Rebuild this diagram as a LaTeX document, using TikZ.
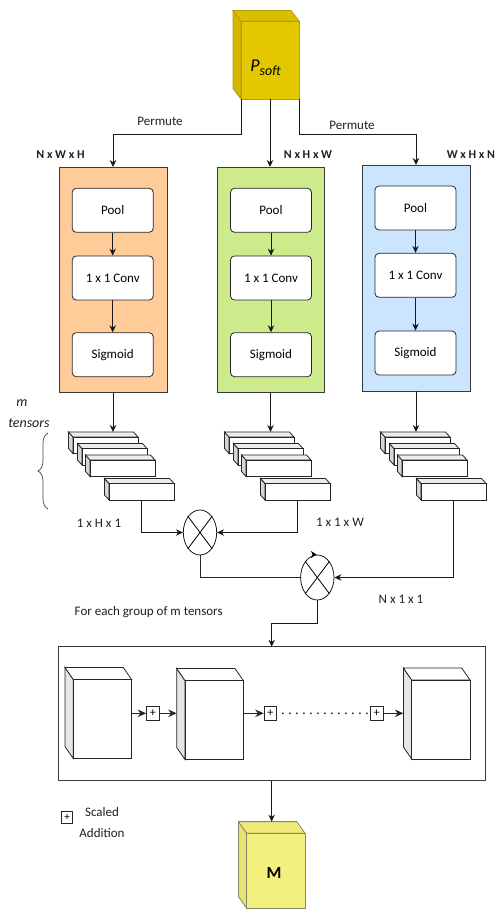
\documentclass[tikz,border=0pt]{standalone}
\usepackage{fontspec}
\setmainfont{Carlito}
\usetikzlibrary{arrows.meta,shapes.geometric,decorations.pathreplacing}

\definecolor{edge}{HTML}{36393D}
\definecolor{orangeF}{HTML}{FFCC99}
\definecolor{greenF}{HTML}{CDEB8B}
\definecolor{blueF}{HTML}{CCE5FF}
\definecolor{goldFront}{HTML}{E3C800}
\definecolor{goldSide}{HTML}{D2B600}
\definecolor{goldTop}{HTML}{DABF00}
\definecolor{goldEdge}{HTML}{B89F00}
\definecolor{lemonFront}{HTML}{F4F07E}
\definecolor{lemonSide}{HTML}{E8E472}
\definecolor{lemonTop}{HTML}{EEEA78}
\definecolor{lemonEdge}{HTML}{85856A}
\definecolor{slabSide}{HTML}{D6D6D6}
\definecolor{slabTop}{HTML}{EDEDED}
\definecolor{cubeSide}{HTML}{E6E6E6}

% A box seen in oblique view: front face is a named node, side and top
% faces are drawn behind it.  #1 look, #2 name, #3/#4 front top-left,
% #5/#6 front width/height, #7/#8 depth offset (left, up).
\newcommand\solid[8]{%
  \filldraw[#1 side] (#3,#4) -- ++(-#7,-#8) -- ++(0,#6) -- (#3,#4+#6) -- cycle;
  \filldraw[#1 top] (#3,#4) -- ++(-#7,-#8) -- ++(#5,0) -- (#3+#5,#4) -- cycle;
  \node[#1 front, anchor=north west, minimum width=#5pt, minimum height=#6pt] (#2) at (#3,#4) {};
  \coordinate (#2-b) at (#3-#7,#4-#8);
  \coordinate (#2-t) at (#3+#5/2-#7,#4-#8);
}

\tikzset{
  txt/.style={font=\fontsize{13}{15}\selectfont, text=black!88, inner sep=0},
  dim/.style={font=\fontsize{12}{14}\selectfont\bfseries, text=black!88, inner sep=0},
  panel/.style={draw=edge, line width=0.8pt, anchor=north west, inner sep=0, outer sep=0},
  stage/.style={draw=black!85, fill=white, rounded corners=4pt, line width=0.8pt,
    minimum width=81pt, minimum height=44pt, inner sep=0,
    font=\fontsize{13}{15}\selectfont},
  arr/.style={-{Stealth[length=7pt,width=6.5pt]}, line width=0.8pt, draw=black!90},
  arrB/.style={-{Stealth[length=8.5pt,width=7.5pt]}, line width=1.2pt, draw=black!85},
  wire/.style={line width=0.8pt, draw=black!85},
  mul/.style={ellipse, draw=black!90, fill=white, line width=0.8pt, inner sep=0,
    minimum width=33.4pt, minimum height=45pt},
  plusbox/.style={draw=black!85, fill=white, line width=0.7pt, inner sep=0,
    minimum width=12.5pt, minimum height=14.5pt, font=\fontsize{12}{12}\selectfont},
  gold side/.style={fill=goldSide, draw=goldEdge, line width=0.8pt},
  gold top/.style={fill=goldTop, draw=goldEdge, line width=0.8pt},
  gold front/.style={fill=goldFront, draw=goldEdge, line width=0.8pt, inner sep=0, outer sep=0},
  lemon side/.style={fill=lemonSide, draw=lemonEdge, line width=0.8pt},
  lemon top/.style={fill=lemonTop, draw=lemonEdge, line width=0.8pt},
  lemon front/.style={fill=lemonFront, draw=lemonEdge, line width=0.8pt, inner sep=0, outer sep=0},
  slab side/.style={fill=slabSide, draw=black!85, line width=0.8pt},
  slab top/.style={fill=slabTop, draw=black!85, line width=0.8pt},
  slab front/.style={fill=white, draw=black!85, line width=0.8pt, inner sep=0, outer sep=0},
  cube side/.style={fill=cubeSide, draw=black!85, line width=0.8pt},
  cube top/.style={fill=white, draw=black!85, line width=0.8pt},
  cube front/.style={fill=white, draw=black!85, line width=0.8pt, inner sep=0, outer sep=0},
}

\begin{document}
\begin{tikzpicture}[x=1pt,y=-1pt]
\useasboundingbox (0,0) rectangle (495,913);

% input tensor
\solid{gold}{ps}{241}{21}{58}{78}{8}{10.5}
\node[inner sep=0] (pslabel) at (265.5,68)
  {\fontsize{18}{18}\selectfont\itshape P\raisebox{-0.4ex}{\fontsize{14}{14}\selectfont soft}};

% three attention branches
\node[panel, fill=orangeF, minimum width=108pt, minimum height=225pt] (po) at (59,167) {};
\node[panel, fill=greenF,  minimum width=107pt, minimum height=225pt] (pg) at (217,167) {};
\node[panel, fill=blueF,   minimum width=108pt, minimum height=226pt] (pb) at (362,165) {};

\node[stage] (o1) at (112.7,210.3) {Pool};
\node[stage] (o2) at (112.7,278)   {1 x 1 Conv};
\node[stage] (o3) at (112.7,354.7) {Sigmoid};
\node[stage] (g1) at (271,210.3) {Pool};
\node[stage] (g2) at (271,278)   {1 x 1 Conv};
\node[stage] (g3) at (271,354.7) {Sigmoid};
\node[stage] (b1) at (415.5,208) {Pool};
\node[stage] (b2) at (415.5,275.3) {1 x 1 Conv};
\node[stage] (b3) at (415.5,353) {Sigmoid};

\foreach \c in {o,g,b} {
  \draw[arr] (\c1) -- (\c2);
  \draw[arr] (\c2) -- (\c3);
}

% permutations
\draw[arr] (ps.south west) -- ++(0,35) -| (po.north);
\draw[arr] (ps.south) -- (ps.south |- pg.north);
\draw[arr] (ps.south east) -- ++(0,35) -| (pb.north);
\node[txt] (perm1) at (160,121.7) {Permute};
\node[txt] (perm2) at (352,125) {Permute};
\node[dim] (d1) at (60.5,155) {N x W x H};
\node[dim] (d2) at (308,155) {N x H x W};
\node[dim] (d3) at (471,155) {W x H x N};

% stacks of m attention tensors
\foreach \c/\s in {o/0,g/156,b/312} {
  \solid{slab}{\c s1}{73+\s}{437}{65}{16.5}{4.5}{5}
  \solid{slab}{\c s2}{82+\s}{448.5}{65}{16.5}{4.5}{5}
  \solid{slab}{\c s3}{90+\s}{460}{65}{16.5}{4.5}{5}
  \solid{slab}{\c s4}{109+\s}{483.5}{65}{16.5}{4.5}{5}
}
\draw[arr] (po.south) -- (po.south |- os1-t);
\draw[arr] (pg.south) -- (pg.south |- gs1-t);
\draw[arr] (pb.south) -- (pb.south |- bs1-t);

\draw[decorate, decoration={brace, amplitude=10pt}, line width=0.7pt, draw=black!75]
  (48,509) -- (48,433);
\node[txt, font=\fontsize{14}{16}\selectfont\itshape] (mlab) at (22,402.7) {m};
\node[txt, font=\fontsize{14}{16}\selectfont\itshape] (tlab) at (29,423) {tensors};

% products
\node[mul] (c1) at (200,532.5) {};
\node[mul] (c2) at (317.3,577.5) {};
\foreach \m in {c1,c2} {
  \draw[line width=0.8pt] (\m.north west) -- (\m.south east);
  \draw[line width=0.8pt] (\m.north east) -- (\m.south west);
}
\fill (311,551) -- (316.5,554.5) -- (311,558) -- (312.5,554.5) -- cycle;

\draw[arr] (os4.south) |- (c1.west);
\draw[arr] (gs4.south) |- (c1.east);
\draw[arr] (bs4.south) |- (c2.east);
\draw[wire] (c1.south) |- (c2.west);

\node[txt] (l1) at (99,523.3) {1 x H x 1};
\node[txt] (l2) at (340,522.7) {1 x 1 x W};
\node[txt] (l3) at (401,599.3) {N x 1 x 1};
\node[txt] (grp) at (148.7,611.7) {For each group of m tensors};

% aggregation over the group
\node[panel, fill=white, minimum width=426.7pt, minimum height=134pt] (bb) at (58.3,646.7) {};
\draw[arr] (c2.south) -- ++(0,22.5) -| (bb.north);

\solid{cube}{k1}{73.3}{679.5}{58.3}{79}{8.3}{12}
\solid{cube}{k2}{185}{680.5}{58.3}{79}{8.3}{12}
\solid{cube}{k3}{411.7}{680}{58.3}{79}{8.3}{12}

\node[plusbox] (p1) at (152.8,713.3) {+};
\node[plusbox] (p2) at (270.3,713.3) {+};
\node[plusbox] (p3) at (376.7,713.3) {+};

\draw[arrB] (k1.east |- p1.west) -- (p1.west);
\draw[arrB] (p1.east) -- (p1.east -| k2-b);
\draw[arrB] (k2.east |- p2.west) -- (p2.west);
\draw[line width=2pt, line cap=round, dash pattern=on 0pt off 7pt, draw=black!85]
  ([xshift=6pt]p2.east) -- ([xshift=-3pt]p3.west);
\draw[arrB] (p3.east) -- (p3.east -| k3-b);

% output
\solid{lemon}{mm}{246.7}{833.3}{58.3}{75}{8.3}{11.7}
\node[inner sep=0, font=\fontsize{17}{17}\selectfont\bfseries] (mlabel) at (274,872.5) {M};
\draw[arr] (bb.south) -- (bb.south |- mm-t);

% legend
\node[plusbox, minimum width=10.6pt, minimum height=11.6pt, font=\fontsize{11}{11}\selectfont] (lg) at (67,817.5) {+};
\node[txt, align=center, font=\fontsize{13}{21.6}\selectfont] (lgt) at (102,822.5) {Scaled\\Addition};

\end{tikzpicture}
\end{document}
